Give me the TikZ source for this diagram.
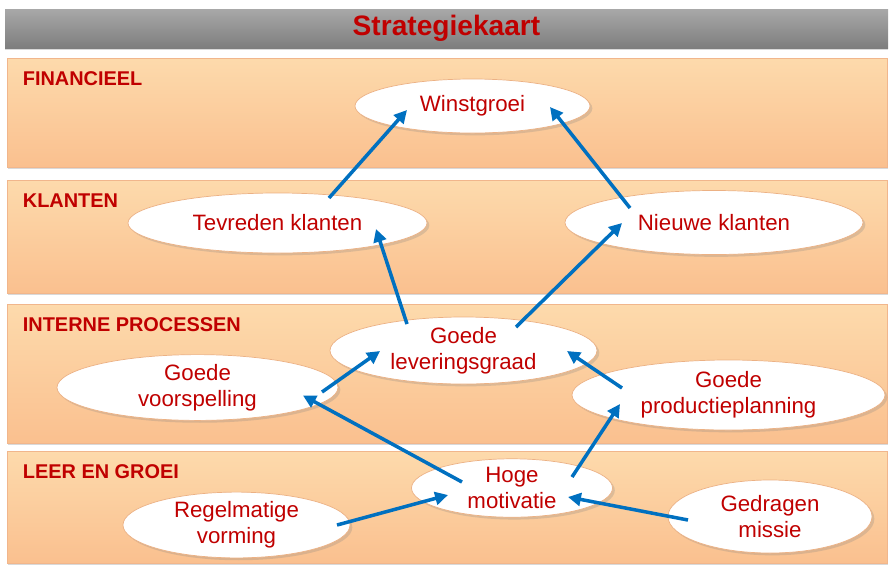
\documentclass[tikz,border=0pt]{standalone}
\usepackage{fontspec}
\setmainfont{Liberation Sans}
\usetikzlibrary{calc,shapes.geometric,shadows,arrows.meta}
\definecolor{kaartred}{HTML}{C00000}
\definecolor{kaartblue}{HTML}{0070C0}
\definecolor{bandtop}{HTML}{FDDAAC}
\definecolor{bandbot}{HTML}{FAC08F}
\definecolor{bandline}{HTML}{F1B68C}
\definecolor{titletop}{HTML}{A8A8A8}
\definecolor{titlebot}{HTML}{7E7E7E}
\newcommand{\pxu}{0.03cm}
\tikzset{
  titlebar/.style={rectangle, inner sep=0pt, top color=titletop, bottom color=titlebot,
    drop shadow={opacity=0.3, shadow xshift=0pt, shadow yshift=-2pt}},
  band/.style={rectangle, inner sep=0pt, draw=bandline, line width=0.6pt,
    top color=bandtop, bottom color=bandbot,
    drop shadow={opacity=0.3, shadow xshift=1pt, shadow yshift=-2pt}},
  bandlabel/.style={anchor=base west, inner sep=0pt, text=kaartred,
    font=\fontsize{17}{20}\selectfont\bfseries},
  doel/.style 2 args={ellipse, inner sep=0pt, draw=bandline!90!brown, line width=0.6pt,
    fill=white, text=kaartred, align=center, font=\fontsize{19}{22}\selectfont,
    minimum width=#1*\pxu, minimum height=#2*\pxu,
    drop shadow={opacity=0.25, shadow xshift=2pt, shadow yshift=-2pt}},
  pijl/.style={draw=kaartblue, line width=3pt, -{Triangle[length=11pt,width=11pt]}}
}

\begin{document}
\begin{tikzpicture}[x=\pxu, y={(0,-\pxu)}]
\useasboundingbox (0,0) rectangle (895,577);

% Draw title bar.
\node[titlebar, minimum width=883*\pxu, minimum height=39*\pxu] (titel) at (446.5,28.5)
  {\fontsize{24}{28}\selectfont\bfseries\textcolor{kaartred}{Strategiekaart}};

% Draw perspective bands.
\foreach \n/\yc/\h/\txt in {fin/112.5/109/FINANCIEEL, kla/236.5/113/KLANTEN,
    pro/373.5/139/INTERNE PROCESSEN, leer/507/112/LEER EN GROEI}
{
\node[band, minimum width=880*\pxu, minimum height=\h*\pxu] (band\n) at (447,\yc) {};
\node[bandlabel] (label\n) at ($(band\n.north west)+(16,28)$) {\txt};
}

% Draw goals.
\node[doel={235}{54}] (winst) at (472.5,106) {Winstgroei};
\node[doel={299}{60}] (tevreden) at (277.5,223) {Tevreden klanten};
\node[doel={298}{64}] (nieuwe) at (714,222.5) {Nieuwe klanten};
\node[doel={267}{67}] (levering) at (463.5,350.5) {Goede\\leveringsgraad};
\node[doel={281}{65}] (voorspel) at (197.5,387.5) {Goede\\voorspelling};
\node[doel={313}{70}] (productie) at (728.5,395) {Goede\\productieplanning};
\node[doel={201}{57}] (motivatie) at (512,488) {Hoge\\motivatie};
\node[doel={227}{64}] (vorming) at (236.5,525) {Regelmatige\\vorming};
\node[doel={204}{73}] (missie) at (770,516.5) {Gedragen\\missie};

% Draw cause and effect arrows.
\draw[pijl] ($(tevreden)+(51.5,-25)$) -- ($(winst)+(-65.5,4)$);
\draw[pijl] ($(nieuwe)+(-84,-14.5)$) -- ($(winst)+(77.5,1)$);
\draw[pijl] ($(levering)+(-56.5,-26.5)$) -- ($(tevreden)+(98.5,6)$);
\draw[pijl] ($(levering)+(52.5,-23.5)$) -- ($(nieuwe)+(-92,0.5)$);
\draw[pijl] ($(voorspel)+(124.5,4.5)$) -- ($(levering)+(-83.5,0.5)$);
\draw[pijl] ($(productie)+(-106.5,-7)$) -- ($(levering)+(103.5,0.5)$);
\draw[pijl] ($(motivatie)+(-50,-6)$) -- ($(voorspel)+(105.5,8)$);
\draw[pijl] ($(motivatie)+(60,-11)$) -- ($(productie)+(-108.5,9)$);
\draw[pijl] ($(vorming)+(100.5,0)$) -- ($(motivatie)+(-64,7)$);
\draw[pijl] ($(missie)+(-82,3.5)$) -- ($(motivatie)+(56,9)$);
\end{tikzpicture}
\end{document}
